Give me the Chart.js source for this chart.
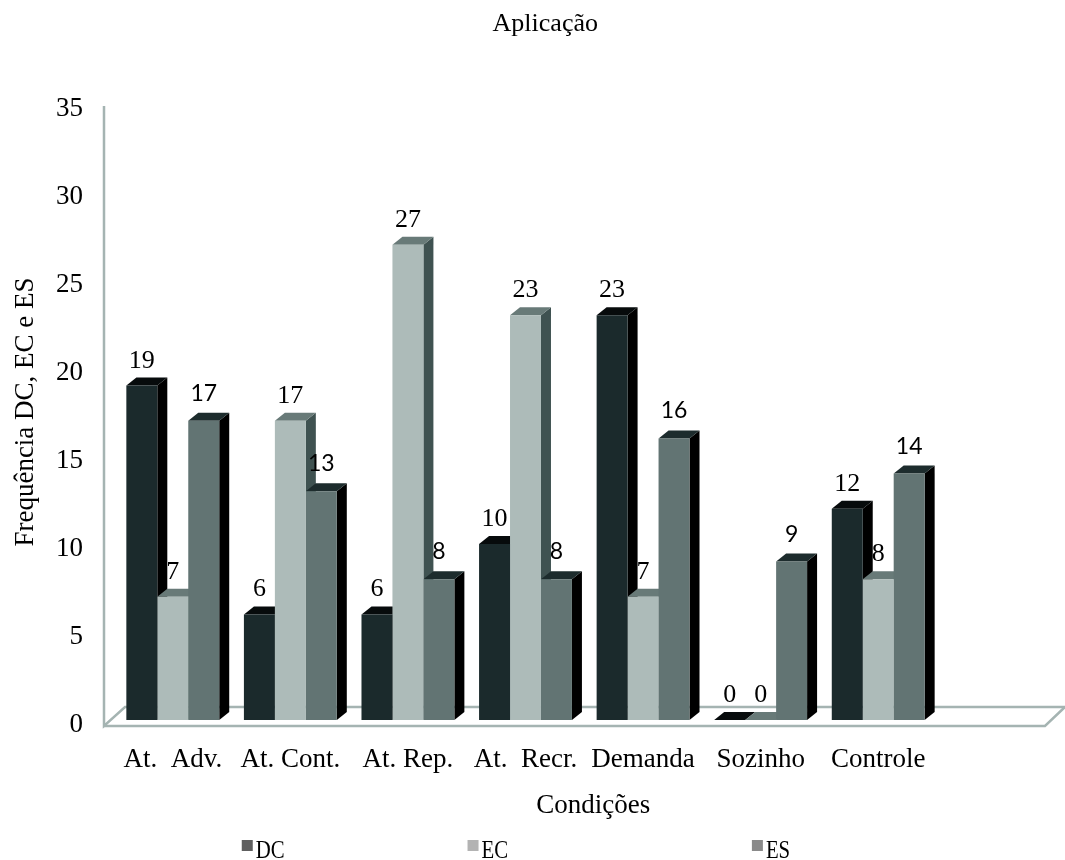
<!DOCTYPE html>
<html>
<head>
<meta charset="utf-8">
<script src="https://cdn.jsdelivr.net/npm/chart.js@4.4.1/dist/chart.umd.min.js"></script>
<style>
  html, body { margin: 0; padding: 0; background: #ffffff; }
  #wrap { width: 1065px; height: 860px; }
</style>
</head>
<body>
<div id="wrap"><canvas id="chart" width="1065" height="860"></canvas></div>
<script>
// Frequência por condição (sessões de aplicação)
const categories = ['At.  Adv.', 'At. Cont.', 'At. Rep.', 'At.  Recr.', 'Demanda', 'Sozinho', 'Controle'];
const seriesNames = ['DC', 'EC', 'ES'];
const dcValues = [19, 6, 6, 10, 23, 0, 12];
const ecValues = [7, 17, 27, 23, 7, 0, 8];
const esValues = [17, 13, 8, 8, 16, 9, 14];
const yMin = 0;
const yMax = 35;
const yStep = 5;

const chartTitle = 'Aplicação';
const xTitle = 'Condições';
const yTitle = 'Frequência DC, EC e ES';

const SERIF = '"Liberation Serif", "Times New Roman", serif';
const SANS = 'Lato, "Open Sans", sans-serif';

// Face colours for the extruded bars: front / side / top
const faces = [
  { front: '#1b2a2c', side: '#000000', top: '#070b0c', legend: '#5f5f5f', labelFont: '26px ' + SERIF, labelLift: 18 },
  { front: '#adbbb9', side: '#3f5251', top: '#687a78', legend: '#b3b3b3', labelFont: '26px ' + SERIF, labelLift: 18 },
  { front: '#627473', side: '#000000', top: '#1d2c2d', legend: '#8a8a8a', labelFont: '23px ' + SANS, labelLift: 20 }
];
const DEPTH_X = 10;
const DEPTH_Y = -8;

const extrusion = {
  id: 'extrusion',
  beforeDatasetsDraw(chart) {
    const ctx = chart.ctx;
    const ca = chart.chartArea;
    ctx.save();
    // left wall edge and floor slab
    ctx.strokeStyle = '#a5b4b2';
    ctx.lineWidth = 2.5;
    ctx.lineJoin = 'miter';
    const wallX = ca.left - 10;
    const frontY = ca.bottom + 6;
    const backY = ca.bottom - 13;
    ctx.beginPath();
    ctx.moveTo(wallX, ca.top + 2);
    ctx.lineTo(wallX, frontY);
    ctx.lineTo(ca.left + 11, backY);
    ctx.lineTo(chart.width, backY);
    ctx.stroke();
    ctx.beginPath();
    ctx.moveTo(wallX, frontY);
    ctx.lineTo(ca.right + 108, frontY);
    ctx.lineTo(ca.right + 128, backY);
    ctx.stroke();

    // side and top faces; fronts are painted afterwards by the bar controller
    chart.data.datasets.forEach((ds, di) => {
      const meta = chart.getDatasetMeta(di);
      const f = faces[di];
      meta.data.forEach((bar) => {
        const p = bar.getProps(['x', 'y', 'base', 'width'], true);
        const l = p.x - p.width / 2;
        const r = p.x + p.width / 2;
        ctx.fillStyle = f.side;
        ctx.beginPath();
        ctx.moveTo(r, p.y);
        ctx.lineTo(r + DEPTH_X, p.y + DEPTH_Y);
        ctx.lineTo(r + DEPTH_X, p.base + DEPTH_Y);
        ctx.lineTo(r, p.base);
        ctx.closePath();
        ctx.fill();
        ctx.fillStyle = f.top;
        ctx.beginPath();
        ctx.moveTo(l, p.y);
        ctx.lineTo(l + DEPTH_X, p.y + DEPTH_Y);
        ctx.lineTo(r + DEPTH_X, p.y + DEPTH_Y);
        ctx.lineTo(r, p.y);
        ctx.closePath();
        ctx.fill();
      });
    });
    ctx.restore();
  },
  afterDatasetsDraw(chart) {
    const ctx = chart.ctx;
    ctx.save();
    ctx.fillStyle = '#000000';
    ctx.textAlign = 'center';
    ctx.textBaseline = 'alphabetic';
    chart.data.datasets.forEach((ds, di) => {
      const meta = chart.getDatasetMeta(di);
      const f = faces[di];
      ctx.font = f.labelFont;
      meta.data.forEach((bar, i) => {
        const p = bar.getProps(['x', 'y'], true);
        ctx.fillText(String(ds.data[i]), p.x, p.y - f.labelLift);
      });
    });
    ctx.restore();
  },
  afterDraw(chart) {
    const ctx = chart.ctx;
    const W = chart.width;
    ctx.save();
    ctx.fillStyle = '#000000';
    ctx.textAlign = 'center';
    ctx.textBaseline = 'middle';
    ctx.font = '26px ' + SERIF;
    ctx.fillText(chartTitle, W * 0.512, 24);
    ctx.font = '27px ' + SERIF;
    ctx.fillText(xTitle, W * 0.557, 806);

    // legend row (narrow serif lettering)
    const anchors = [0.227, 0.439, 0.706];
    ctx.textAlign = 'left';
    ctx.textBaseline = 'alphabetic';
    ctx.font = '26px ' + SERIF;
    chart.data.datasets.forEach((ds, di) => {
      const x = W * anchors[di];
      ctx.fillStyle = faces[di].legend;
      ctx.fillRect(x, 840, 11, 11);
      ctx.fillStyle = '#000000';
      ctx.save();
      ctx.translate(x + 14, 858);
      ctx.scale(0.8, 1);
      ctx.fillText(ds.label, 0, 0);
      ctx.restore();
    });
    ctx.restore();
  }
};

const datasetValues = [dcValues, ecValues, esValues];

new Chart(document.getElementById('chart'), {
  type: 'bar',
  data: {
    labels: categories,
    datasets: seriesNames.map((name, i) => ({
      label: name,
      data: datasetValues[i],
      backgroundColor: faces[i].front,
      borderWidth: 0,
      barPercentage: 1.0,
      categoryPercentage: 0.79
    }))
  },
  options: {
    responsive: false,
    animation: false,
    devicePixelRatio: 1,
    layout: { padding: { top: 104, right: 128, bottom: 0, left: 0 } },
    plugins: {
      legend: { display: false },
      title: { display: false },
      tooltip: { enabled: false }
    },
    scales: {
      x: {
        grid: { display: false },
        border: { display: false },
        ticks: {
          color: '#000000',
          font: { family: SERIF, size: 27 },
          padding: 16,
          maxRotation: 0,
          autoSkip: false
        },
        afterFit(scale) { scale.height = 140; }
      },
      y: {
        min: yMin,
        max: yMax,
        grid: { display: false, drawTicks: false },
        border: { display: false },
        ticks: {
          stepSize: yStep,
          color: '#000000',
          font: { family: SERIF, size: 27 },
          padding: 31,
          labelOffset: 5
        },
        title: {
          display: true,
          text: yTitle,
          color: '#000000',
          font: { family: SERIF, size: 27 },
          padding: { top: 10, bottom: 0 }
        },
        afterFit(scale) { scale.width = 114; }
      }
    }
  },
  plugins: [extrusion]
});
</script>
</body>
</html>
